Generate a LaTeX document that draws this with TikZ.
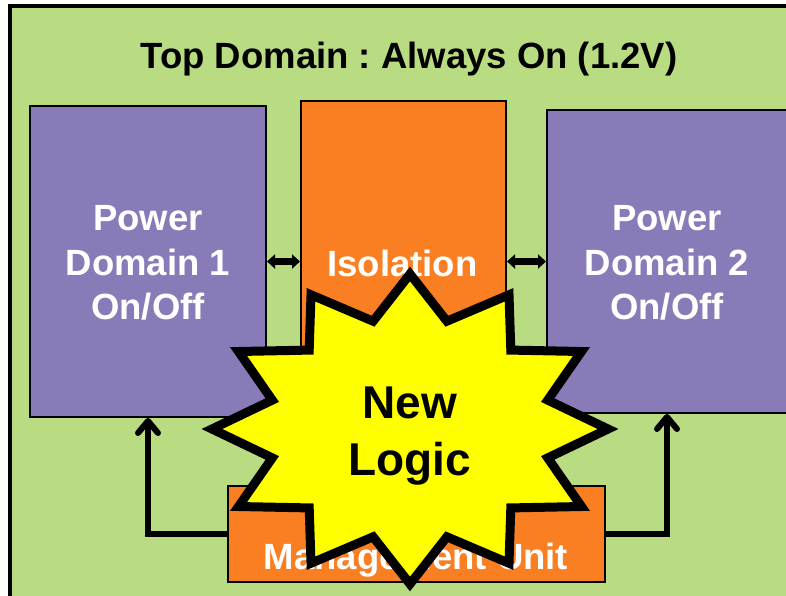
\documentclass[tikz,border=0pt]{standalone}
\usepackage{fontspec}
\setmainfont{Liberation Sans}
\usetikzlibrary{arrows.meta}
\frenchspacing
\definecolor{domaingreen}{RGB}{185,219,129}
\definecolor{domainpurple}{RGB}{137,123,183}
\definecolor{domainorange}{RGB}{250,127,34}
\definecolor{logicyellow}{RGB}{255,255,0}
\tikzset{
  block/.style={draw=black, line width=2pt, inner sep=0pt},
  purplebox/.style={block, fill=domainpurple},
  orangebox/.style={block, fill=domainorange},
  whitetext/.style={font=\bfseries\fontsize{36.5}{44.5}\selectfont, text=white, align=center},
  blacktext/.style={font=\bfseries\fontsize{36.5}{44}\selectfont, text=black, align=center},
  ctrlarrow/.style={line width=6pt, -{Straight Barb[length=12pt,width=20pt,round]}},
  linkarrow/.style={line width=7pt, {Triangle[length=8pt,width=14pt]}-{Triangle[length=8pt,width=14pt]}},
  burst/.style={draw=black, line width=9pt, fill=logicyellow, line join=miter}
}
\begin{document}
\begin{tikzpicture}[x=1pt,y=-1pt]
\useasboundingbox (0,0) rectangle (786,595);

% always-on top domain
\fill[domaingreen] (10,6) rectangle (810,620);
\draw[line width=3.5pt] (10,620) -- (10,6) -- (810,6);
\node[blacktext, anchor=base] (title) at (409,68) {Top Domain : Always On (1.2V)};

% switchable domains and isolation
\node[purplebox, minimum width=236pt, minimum height=311pt] (pd1) at (148,261.5) {};
\node[purplebox, minimum width=240pt, minimum height=303pt] (pd2) at (667,261.5) {};
\node[orangebox, minimum width=205pt, minimum height=349pt] (iso) at (403.5,275.5) {};
\node[whitetext] (pd1text) at (148,263) {Power\\Domain 1\\On/Off};
\node[whitetext] (pd2text) at (667,263) {Power\\Domain 2\\On/Off};
\node[whitetext, anchor=base] (isotext) at (402.5,276) {Isolation};

% power management unit
\node[orangebox, minimum width=377pt, minimum height=96pt] (mu) at (416.5,534) {};
\node[whitetext, anchor=base] (mutext) at (416,569) {Management Unit};

% connections
\draw[ctrlarrow] (mu.west) -| (pd1.south);
\draw[ctrlarrow] (mu.east) -| (pd2.south);
\draw[linkarrow] (pd1.east) -- (pd1.east -| iso.west);
\draw[linkarrow] (iso.east |- pd2.west) -- (pd2.west);

% twelve-point burst
\path[burst] plot[samples=24, domain=0:23, variable=\k]
  ({410 + 198*(mod(\k,2)==0 ? 1 : 0.72)*sin(15*\k)},
   {429 - 155*(mod(\k,2)==0 ? 1 : 0.72)*cos(15*\k)}) -- cycle;
\node[font=\bfseries\fontsize{46}{57}\selectfont, align=center] (newlogic) at (410,436) {New\\Logic};
\end{tikzpicture}
\end{document}
